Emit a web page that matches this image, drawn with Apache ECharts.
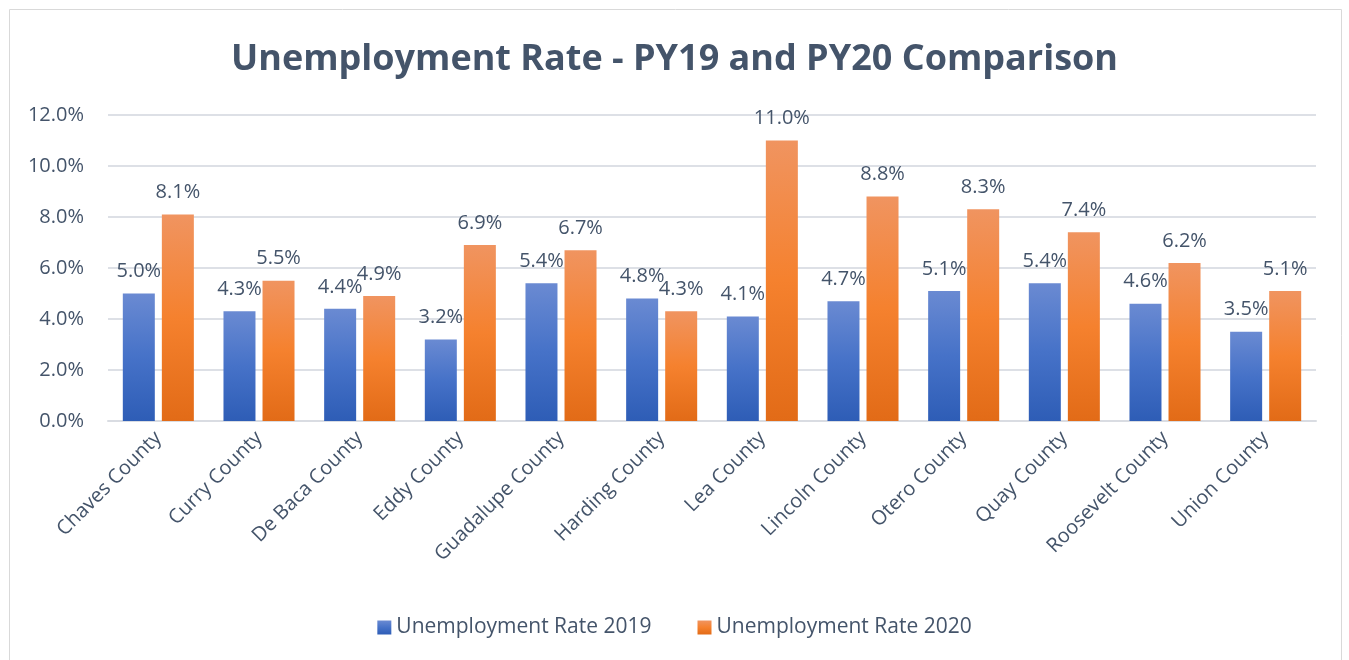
<!DOCTYPE html>
<html><head><meta charset="utf-8">
<script src="https://cdn.jsdelivr.net/npm/echarts@6/dist/echarts.min.js"></script>
<style>html,body{margin:0;padding:0;background:#fff}#c{width:1349px;height:660px}</style>
</head><body><div id="c"></div>
<script>
const categories = ['Chaves County','Curry County','De Baca County','Eddy County','Guadalupe County','Harding County','Lea County','Lincoln County','Otero County','Quay County','Roosevelt County','Union County'];
const rate2019 = [5.0,4.3,4.4,3.2,5.4,4.8,4.1,4.7,5.1,5.4,4.6,3.5];
const rate2020 = [8.1,5.5,4.9,6.9,6.7,4.3,11.0,8.8,8.3,7.4,6.2,5.1];
const seriesNames = ['Unemployment Rate 2019','Unemployment Rate 2020'];

const txt = '#44546A';
const font = 'Open Sans';
const blueGrad = new echarts.graphic.LinearGradient(0,0,0,1,[{offset:0,color:'#6A8AD2'},{offset:0.5,color:'#4672C8'},{offset:1,color:'#2E5DB6'}]);
const orangeGrad = new echarts.graphic.LinearGradient(0,0,0,1,[{offset:0,color:'#F09460'},{offset:0.5,color:'#F5812E'},{offset:1,color:'#E26B17'}]);
const chart = echarts.init(document.getElementById('c'));
const lbl = {show:true, position:'top', distance:12, color:txt, fontFamily:font, fontSize:20, formatter:p=>p.value.toFixed(1)+'%'};
chart.setOption({
  animation:false,
  graphic:[{type:'rect', shape:{x:9.5,y:9.5,width:1332,height:700}, style:{fill:'none', stroke:'#D9D9D9', lineWidth:1}, silent:true}],
  title:{text:'Unemployment Rate - PY19 and PY20 Comparison', left:'center', top:37, textStyle:{color:txt, fontFamily:font, fontSize:36, fontWeight:'bold'}},
  legend:{bottom:17, left:'center', itemWidth:14, itemHeight:14, itemGap:46, icon:'rect', textStyle:{color:txt, fontFamily:font, fontSize:21}, data:seriesNames},
  grid:{left:108, right:33, top:115, bottom:239},
  xAxis:{type:'category', data:categories, axisTick:{show:false}, axisLine:{lineStyle:{color:'#D9DCE2', width:2}},
    axisLabel:{rotate:45, color:txt, fontFamily:font, fontSize:20, margin:14, interval:0}},
  yAxis:{type:'value', min:0, max:12, interval:2, axisLine:{show:false}, axisTick:{show:false},
    splitLine:{lineStyle:{color:'#DDE0E6', width:2}},
    axisLabel:{color:txt, fontFamily:font, fontSize:20, margin:24, formatter:v=>v.toFixed(1)+'%'}},
  series:[
    {name:seriesNames[0], type:'bar', data:rate2019, barWidth:32, barGap:'22%', itemStyle:{color:blueGrad}, label:lbl},
    {name:seriesNames[1], type:'bar', data:rate2020, barWidth:32, itemStyle:{color:orangeGrad}, label:lbl}
  ]
});
</script></body></html>
